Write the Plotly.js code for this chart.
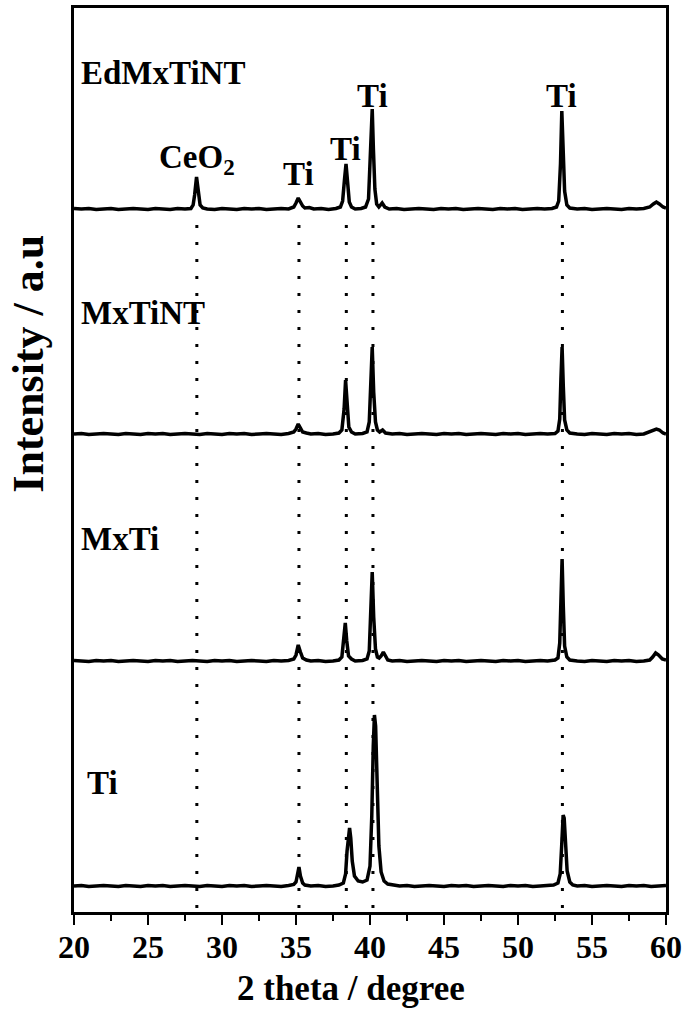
<!DOCTYPE html>
<html>
<head>
<meta charset="utf-8">
<script src="https://cdn.plot.ly/plotly-3.0.1.min.js"></script>
<style>
html,body{margin:0;padding:0;background:#fff;}
#chart{width:684px;height:1013px;}
</style>
</head>
<body>
<div id="chart"></div>
<script>
// ---- Data (2 theta in degrees, relative intensity in a.u.) ----
var sampleNames = ["EdMxTiNT", "MxTiNT", "MxTi", "Ti"];
var sampleOffsets = [703, 478, 251, 26];

var xEd = [20.0,20.5,21.0,21.5,22.0,22.5,23.0,23.5,24.0,24.5,25.0,25.5,26.0,26.5,27.0,27.5,27.9,28.05,28.15,28.22,28.28,28.34,28.42,28.52,28.7,29.0,29.5,30.0,30.5,31.0,31.5,32.0,32.5,33.0,33.5,34.0,34.5,34.85,35.0,35.15,35.3,35.45,35.6,35.9,36.2,36.7,37.2,37.7,38.0,38.15,38.28,38.38,38.48,38.6,38.75,39.0,39.4,39.7,39.9,40.0,40.08,40.15,40.23,40.33,40.45,40.6,40.82,41.0,41.3,41.8,42.3,42.8,43.3,43.8,44.3,44.8,45.3,45.8,46.3,46.8,47.3,47.8,48.3,48.8,49.3,49.8,50.3,50.8,51.3,51.8,52.3,52.6,52.75,52.87,52.96,53.05,53.15,53.3,53.5,54.0,54.5,55.0,55.5,56.0,56.5,57.0,57.5,58.0,58.5,58.9,59.15,59.35,59.55,59.8,60.0];
var yEd = [0.5,0,0.5,-0.5,0,0.5,-0.5,0,0.5,0,-0.5,0.5,0,-0.5,0.5,0,0.5,4,14,26,32,25,12,4,1,0,-0.5,0.5,0,-0.5,0.5,0,0.5,-0.5,0,0.5,0,2,6,11,7,3,1,1.5,0,0.5,-0.5,0.5,2,8,30,45,28,7,2,0,0.5,2,10,45,85,100,60,20,5,2,6,2,0,0.5,-0.5,0,0.5,0,-0.5,0.5,0,0.5,-0.5,0,0.5,0,-0.5,0.5,0,0.5,-0.5,0,0.5,0,0.5,2,8,45,98,60,18,4,1,0,0.5,-0.5,0,0.5,0,-0.5,0.5,0,0.5,2,5,7,5,2,1];

var xMxTiNT = [20.0,20.5,21.0,21.5,22.0,22.5,23.0,23.5,24.0,24.5,25.0,25.5,26.0,26.5,27.0,27.5,28.0,28.5,29.0,29.5,30.0,30.5,31.0,31.5,32.0,32.5,33.0,33.5,34.0,34.5,34.85,35.0,35.15,35.3,35.45,35.7,36.0,36.5,37.0,37.5,37.9,38.1,38.25,38.35,38.45,38.57,38.75,39.0,39.5,39.8,39.95,40.05,40.15,40.25,40.37,40.5,40.65,40.85,41.05,41.5,42.0,42.5,43.0,43.5,44.0,44.5,45.0,45.5,46.0,46.5,47.0,47.5,48.0,48.5,49.0,49.5,50.0,50.5,51.0,51.5,52.0,52.5,52.7,52.82,52.9,52.98,53.06,53.15,53.3,53.5,54.0,54.5,55.0,55.5,56.0,56.5,57.0,57.5,58.0,58.5,58.9,59.15,59.35,59.55,59.8,60.0];
var yMxTiNT = [0,0.5,-0.5,0,0.5,0,-0.5,0.5,0,-0.5,0.5,0,0.5,-0.5,0,0.5,0,-0.5,0.5,0,-0.5,0.5,0,0.5,-0.5,0,0.5,0,-0.5,0.5,2,5,10,6,2,1,0,0.5,-0.5,0,1,4,25,54,30,7,2,0,0.5,2,12,50,87,42,12,4,2,4,1,0,0.5,-0.5,0,0.5,0,-0.5,0.5,0,0.5,-0.5,0,0.5,0,-0.5,0.5,0,0.5,-0.5,0,0.5,0,0.5,3,15,55,87,48,14,4,1,0,-0.5,0.5,0,-0.5,0.5,0,0.5,-0.5,0,2,4,5,4,1,0];

var xMxTi = [20.0,20.5,21.0,21.5,22.0,22.5,23.0,23.5,24.0,24.5,25.0,25.5,26.0,26.5,27.0,27.5,28.0,28.5,29.0,29.5,30.0,30.5,31.0,31.5,32.0,32.5,33.0,33.5,34.0,34.5,34.85,35.0,35.15,35.3,35.45,35.7,36.0,36.5,37.0,37.5,37.9,38.1,38.22,38.33,38.43,38.55,38.75,39.0,39.5,39.8,39.95,40.05,40.15,40.25,40.37,40.5,40.62,40.75,40.9,41.05,41.2,41.5,42.0,42.5,43.0,43.5,44.0,44.5,45.0,45.5,46.0,46.5,47.0,47.5,48.0,48.5,49.0,49.5,50.0,50.5,51.0,51.5,52.0,52.5,52.7,52.82,52.9,52.98,53.06,53.15,53.3,53.5,54.0,54.5,55.0,55.5,56.0,56.5,57.0,57.5,58.0,58.5,58.9,59.1,59.3,59.5,59.75,60.0];
var yMxTi = [0.5,0,-0.5,0.5,0,0.5,-0.5,0,0.5,0,-0.5,0.5,0,0.5,-0.5,0,0.5,0,-0.5,0.5,0,0.5,-0.5,0,0.5,0,-0.5,0.5,0,0.5,2,6,16,9,3,1,0,0.5,-0.5,0,1,4,20,38,20,5,2,0,0.5,2,10,45,89,44,12,4,3,5,9,5,1,0,0.5,-0.5,0,0.5,0,-0.5,0.5,0,0.5,-0.5,0,0.5,0,-0.5,0.5,0,0.5,-0.5,0,0.5,0,1,3,18,60,102,55,15,4,1,0,-0.5,0.5,0,-0.5,0.5,0,0.5,-0.5,0,1,4,8,6,2,1];

var xTi = [20.0,20.5,21.0,21.5,22.0,22.5,23.0,23.5,24.0,24.5,25.0,25.5,26.0,26.5,27.0,27.5,28.0,28.5,29.0,29.5,30.0,30.5,31.0,31.5,32.0,32.5,33.0,33.5,34.0,34.5,34.85,35.0,35.1,35.2,35.3,35.45,35.6,36.0,36.5,37.0,37.5,37.9,38.2,38.35,38.45,38.55,38.62,38.7,38.8,38.95,39.2,39.5,39.8,40.0,40.12,40.22,40.3,40.38,40.48,40.6,40.75,40.95,41.2,41.6,42.0,42.5,43.0,43.5,44.0,44.5,45.0,45.5,46.0,46.5,47.0,47.5,48.0,48.5,49.0,49.5,50.0,50.5,51.0,51.5,52.0,52.4,52.7,52.85,52.95,53.05,53.12,53.2,53.32,53.5,53.7,54.0,54.5,55.0,55.5,56.0,56.5,57.0,57.5,58.0,58.5,59.0,59.5,60.0];
var yTi = [0,0.5,-0.5,0,0.5,0,-0.5,0.5,0,-0.5,0.5,0,0.5,-0.5,0,0.5,0,-0.5,0.5,0,-0.5,0.5,0,0.5,-0.5,0,0.5,0,-0.5,0.5,1.5,4,10,19,10,3,1,0,0.5,-0.5,0,1,3,12,35,55,58,48,25,10,5,4,6,20,70,140,171,160,100,40,14,5,2,1,0,0.5,-0.5,0,0.5,0,-0.5,0.5,0,0.5,-0.5,0,0.5,0,-0.5,0.5,0,0.5,-0.5,0,0.5,1,3,12,40,71,68,40,15,4,1,0,0.5,-0.5,0,0.5,0,-0.5,0.5,0,0.5,-0.5,0,0.5];

var refPositions = [28.3, 35.2, 38.4, 40.2, 53.0];
var peakLabels = ["CeO<sub>2</sub>", "Ti", "Ti", "Ti", "Ti"];

// ---- Build ----
var xs = [xEd, xMxTiNT, xMxTi, xTi];
var ys = [yEd, yMxTiNT, yMxTi, yTi];
var traces = [];
refPositions.forEach(function (p) {
  traces.push({
    x: [p, p], y: [4, 694], mode: 'lines', type: 'scatter',
    line: {color: '#000', width: 3, dash: '3px,14px'}, hoverinfo: 'skip', showlegend: false
  });
});
for (var i = 0; i < xs.length; i++) {
  var off = sampleOffsets[i];
  traces.push({
    x: xs[i], y: ys[i].map(function (v) { return v + off; }),
    mode: 'lines', type: 'scatter', name: sampleNames[i],
    line: {color: '#000', width: 3.5, shape: 'linear'}, showlegend: false
  });
}

var fontFam = 'Liberation Serif, Times New Roman, serif';
var lblFont = {family: fontFam, size: 33, color: '#000', weight: 'bold'};
var annotations = [];
// sample labels
var sampleLabelY = [839, 599, 373, 129];
var sampleLabelX = [20.35, 20.35, 20.35, 20.75];
for (var k = 0; k < sampleNames.length; k++) {
  annotations.push({x: sampleLabelX[k], y: sampleLabelY[k], xref: 'x', yref: 'y', text: sampleNames[k],
    showarrow: false, xanchor: 'left', yanchor: 'middle', font: lblFont});
}
// peak labels
var peakLabelX = [28.3, 35.15, 38.35, 40.15, 52.95];
var peakLabelY = [753, 738, 763, 816, 816];
for (var m = 0; m < peakLabels.length; m++) {
  annotations.push({x: peakLabelX[m], y: peakLabelY[m], xref: 'x', yref: 'y', text: peakLabels[m],
    showarrow: false, xanchor: 'center', yanchor: 'middle', font: lblFont});
}
// axis titles
annotations.push({x: 0.468, y: -0.085, xref: 'paper', yref: 'paper', text: '2 theta / degree',
  showarrow: false, xanchor: 'center', yanchor: 'middle', font: {family: fontFam, size: 35, color: '#000', weight: 'bold'}});
annotations.push({x: -0.077, y: 0.607, xref: 'paper', yref: 'paper', text: 'Intensity / a.u', textangle: -90,
  showarrow: false, xanchor: 'center', yanchor: 'middle', font: {family: fontFam, size: 44, color: '#000', weight: 'bold'}});

var layout = {
  width: 684, height: 1013,
  margin: {l: 74, r: 18, t: 8, b: 101},
  paper_bgcolor: '#fff', plot_bgcolor: '#fff',
  showlegend: false,
  xaxis: {
    range: [20, 60], dtick: 5, tick0: 20, ticks: 'outside', ticklen: 10, tickwidth: 2.5, tickcolor: '#000',
    showline: true, linewidth: 3, linecolor: '#000', mirror: true, showgrid: false, zeroline: false,
    ticklabelstandoff: -5,
    tickfont: {family: fontFam, size: 32, color: '#000', weight: 'bold'},
    minor: {dtick: 2.5, ticks: 'outside', ticklen: 6, tickwidth: 2.5, tickcolor: '#000', showgrid: false}
  },
  yaxis: {
    range: [0, 904], showticklabels: false, ticks: '', showline: true, linewidth: 3, linecolor: '#000',
    mirror: true, showgrid: false, zeroline: false
  },
  annotations: annotations
};

Plotly.newPlot('chart', traces, layout, {staticPlot: true, displayModeBar: false});
</script>
</body>
</html>
